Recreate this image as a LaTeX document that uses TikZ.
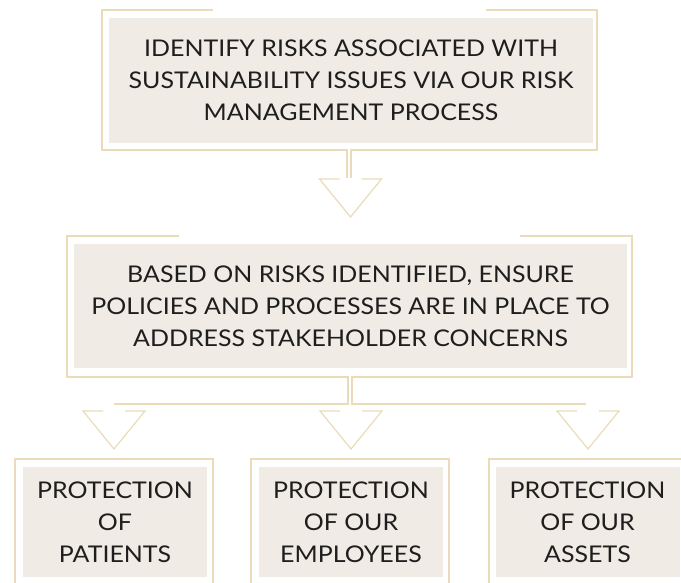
\documentclass[tikz,border=0pt]{standalone}
\usepackage{fontspec}
\setmainfont[FakeStretch=1.085]{Lato}
\usepackage{tikz}
\usetikzlibrary{positioning, calc}

\definecolor{goldline}{HTML}{EADCB8}
\definecolor{boxfill}{HTML}{F0EBE4}
\definecolor{inktext}{HTML}{1E1E1E}

\tikzset{
    fillbox/.style={fill=boxfill, inner sep=0pt, align=center, text=inktext,
        font=\fontsize{23}{32}\selectfont},
    frameline/.style={draw=goldline, line width=1.5pt},
}

\begin{document}
\begin{tikzpicture}[x=1pt, y=-1pt]
            \useasboundingbox (0,0) rectangle (681,582);
            \clip (0,0) rectangle (681,582);

            % boxes
            \node[fillbox, minimum width=484pt, minimum height=125pt] (identify) at (351,80.5)
                {IDENTIFY RISKS ASSOCIATED WITH\\ SUSTAINABILITY ISSUES VIA OUR RISK\\ MANAGEMENT PROCESS};
            \node[fillbox, minimum width=553pt, minimum height=124pt] (ensure) at (350.5,306)
                {BASED ON RISKS IDENTIFIED, ENSURE\\ POLICIES AND PROCESSES ARE IN PLACE TO\\ ADDRESS STAKEHOLDER CONCERNS};
            \node[fillbox, minimum width=184pt, minimum height=110pt] (patients) at (115,522)
                {PROTECTION\\ OF\\ PATIENTS};
            \node[fillbox, minimum width=184pt, minimum height=110pt] (employees) at (351,522)
                {PROTECTION\\ OF OUR\\ EMPLOYEES};
            \node[fillbox, minimum width=184pt, minimum height=110pt] (assets) at (587.5,522)
                {PROTECTION\\ OF OUR\\ ASSETS};

            % outer frames with the stems
            \draw[frameline] (213,10) -- (102,10) -- (102,150) -- (347,150) -- ++(0,28);
            \draw[frameline] (351,178) -- (351,150) -- (597,150) -- (597,10) -- (486,10);
            \draw[frameline] (179,236) -- (67,236) -- (67,377) -- (348,377) -- (348,404) -- (114,404);
            \draw[frameline] (586,404) -- (352,404) -- (352,377) -- (632,377) -- (632,236) -- (520,236);
            \foreach \l/\r in {15/213, 251/449, 489/685}
                \draw[frameline] (\l,590) -- (\l,459) -- (\r,459) -- (\r,590);

            % open arrow heads
            \foreach \c/\t in {350.5/179, 114/411, 351/411, 588/411}
                \draw[frameline, line width=1.2pt] (\c-11,\t) -- (\c-31,\t) -- (\c,\t+38) -- (\c+31,\t) -- (\c+11,\t);
        \end{tikzpicture}
\end{document}
